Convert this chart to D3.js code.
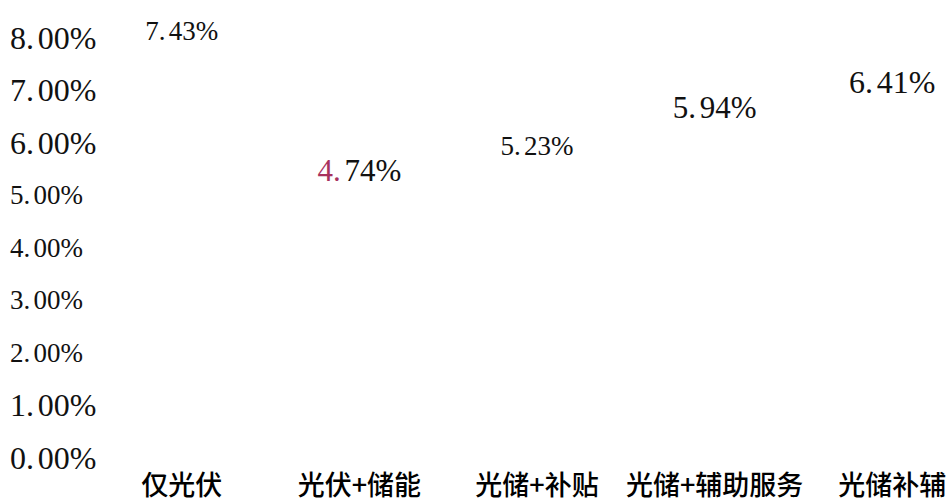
<!DOCTYPE html>
<html>
<head>
<meta charset="utf-8">
<script src="https://cdn.jsdelivr.net/npm/d3@7"></script>
<style>
  body { margin: 0; background: #fff; }
</style>
</head>
<body>
<div id="viz"></div>
<script>
  const categories = ["仅光伏", "光伏+储能", "光储+补贴", "光储+辅助服务", "光储补辅"];
  const values = [7.43, 4.74, 5.23, 5.94, 6.41];
  const labelSizes = [27, 31, 27, 31, 32];
  const yTicks = [0, 1, 2, 3, 4, 5, 6, 7, 8];
  const tickSizes = [32, 32, 27, 27, 27, 27, 32, 32, 32];

  const width = 949, height = 503;

  const svg = d3.select("#viz").append("svg")
    .attr("width", width)
    .attr("height", height)
    .style("background-color", "#fff");

  const yScale = d3.scaleLinear()
    .domain([0, 8])
    .range([458, 38]);

  const xScale = d3.scaleBand()
    .domain(categories)
    .range([93, 981])
    .paddingInner(0.4)
    .paddingOuter(0.2);

  const cx = d => xScale(d) + xScale.bandwidth() / 2;

  // bars are white in the original, so they don't show
  svg.append("g")
    .selectAll("rect")
    .data(values)
    .join("rect")
    .attr("x", (d, i) => xScale(categories[i]))
    .attr("y", d => yScale(d))
    .attr("width", xScale.bandwidth())
    .attr("height", d => yScale(0) - yScale(d))
    .attr("fill", "#fff");

  // y axis labels
  svg.append("g")
    .selectAll("text")
    .data(yTicks)
    .join("text")
    .attr("x", 10)
    .attr("y", d => yScale(d))
    .attr("dy", "0.33em")
    .style("font-family", "'Liberation Serif', serif")
    .style("font-size", (d, i) => tickSizes[i] + "px")
    .style("fill", "#111")
    .each(function(d) {
      const s = d.toFixed(2) + "%";
      const t = d3.select(this);
      t.append("tspan").text(s.slice(0, 2));
      t.append("tspan").attr("dx", "0.12em").text(s.slice(2));
    });

  // value labels
  svg.append("g")
    .selectAll("text")
    .data(values)
    .join("text")
    .attr("x", (d, i) => cx(categories[i]))
    .attr("y", d => yScale(d) - 28)
    .attr("text-anchor", "middle")
    .style("font-family", "'Liberation Serif', serif")
    .style("font-size", (d, i) => labelSizes[i] + "px")
    .style("fill", "#111")
    .each(function(d, i) {
      const s = d.toFixed(2) + "%";
      const t = d3.select(this);
      t.append("tspan").text(s.slice(0, 2))
        .style("fill", i === 1 ? "#a8325e" : "#111");
      t.append("tspan").attr("dx", "0.12em").text(s.slice(2));
    });

  // category labels
  svg.append("g")
    .selectAll("text")
    .data(categories)
    .join("text")
    .attr("x", d => cx(d))
    .attr("y", 495)
    .attr("text-anchor", "middle")
    .style("font-family", "'Noto Sans CJK SC', sans-serif")
    .style("font-size", "27px")
    .style("font-weight", 500)
    .style("fill", "#000")
    .text(d => d);
</script>
</body>
</html>
